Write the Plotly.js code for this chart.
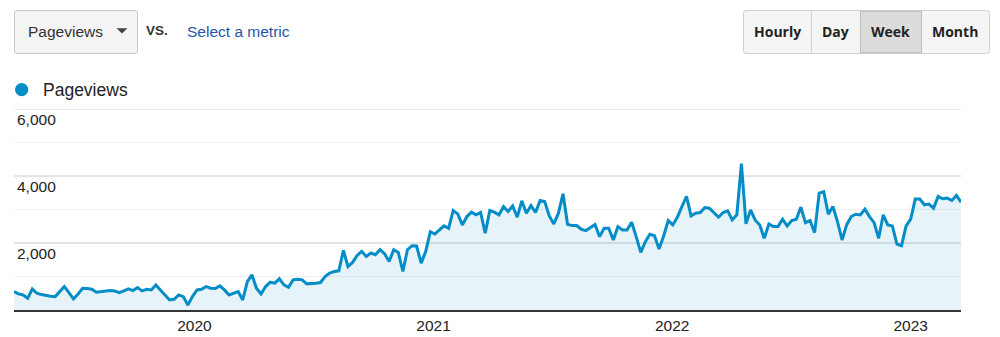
<!DOCTYPE html>
<html>
<head>
<meta charset="utf-8">
<script src="https://cdn.plot.ly/plotly-3.0.1.min.js"></script>
<style>
  html, body { margin: 0; padding: 0; background: #ffffff; }
  #chart { width: 1000px; height: 337px; }
</style>
</head>
<body>
<div id="chart"></div>
<script>
// ---------------- data ----------------
const seriesName = 'Pageviews';
const firstWeek = '2019-03-31';           // weekly buckets (Sunday start)

// Weekly pageviews, Apr 2019 – mid 2020
const pageviewsA = [550,480,450,350,630,500,460,430,410,400,
  550,700,520,330,480,650,640,620,530,550,
  580,580,570,520,570,630,580,670,570,620,
  600,750,600,450,300,320,450,400,150,400,
  600,620,700,650,640,720,600,450,500,550,
  300,850,1050,650,480,700,830,800,930,750,
  680,900,920,900,780,780,800];
// Weekly pageviews, mid 2020 – late 2021
const pageviewsB = [820,1000,1100,1150,1170,1780,1300,1420,1630,1750,
  1600,1700,1650,1800,1680,1450,1800,1720,1150,1800,
  1920,1910,1400,1750,2340,2270,2390,2510,2440,2970,
  2870,2540,2790,2920,2840,2910,2290,2970,2920,2840,
  3090,2940,3110,2770,3260,2890,3120,2910,3270,3240,
  2810,2570,2890,3470,2560,2520,2520,2410,2370,2470,
  2550,2190,2440,2440,2090,2490,2390,2390,2620,2190];
// Weekly pageviews, late 2021 – Mar 2023
const pageviewsC = [1720,2040,2260,2220,1820,2210,2670,2540,2770,3090,
  3390,2810,2890,2910,3060,3040,2890,2770,2910,2960,
  2690,2840,4370,2570,2990,2690,2540,2140,2570,2490,
  2490,2710,2510,2670,2710,3070,2610,2670,2310,3490,
  3530,2860,3090,2640,2090,2540,2790,2860,2840,3010,
  2790,2610,2140,2840,2540,2510,1970,1920,2510,2710,
  3310,3310,3140,3160,3040,3390,3320,3340,3270,3420,
  3220];

const yearTickVals = ['2020-01-01','2021-01-01','2022-01-01','2023-01-01'];
const yearTickText = ['2020','2021','2022','2023'];
const yTickVals = [2000, 4000, 6000];
const yTickText = ['2,000', '4,000', '6,000'];
const yMinorVals = [1000, 3000, 5000];
const intervalButtons = ['Hourly', 'Day', 'Week', 'Month'];
const metricLabel = 'Pageviews';
const vsLabel = 'VS.';
const selectLabel = 'Select a metric';

// ---------------- build ----------------
const values = pageviewsA.concat(pageviewsB, pageviewsC);
const t0 = Date.parse(firstWeek + 'T00:00:00Z');
const dates = values.map((v, i) => new Date(t0 + i * 7 * 864e5).toISOString().slice(0, 10));

// plot area in px
const W = 1000, H = 337;
const PL = 14, PR = 961, PT = 109, PB = 310;
const fx = x => (x - PL) / (PR - PL);
const fy = y => (PB - y) / (PB - PT);
const pt = (x, y) => fx(x) + ',' + fy(y);
function rr(x0, y0, x1, y1, r) {
  return 'M' + pt(x0 + r, y0) + ' L' + pt(x1 - r, y0) + ' Q' + pt(x1, y0) + ' ' + pt(x1, y0 + r) +
    ' L' + pt(x1, y1 - r) + ' Q' + pt(x1, y1) + ' ' + pt(x1 - r, y1) +
    ' L' + pt(x0 + r, y1) + ' Q' + pt(x0, y1) + ' ' + pt(x0, y1 - r) +
    ' L' + pt(x0, y0 + r) + ' Q' + pt(x0, y0) + ' ' + pt(x0 + r, y0) + ' Z';
}

const FONT = 'Liberation Sans, Arial, sans-serif';
const BFONT = 'Open Sans, Liberation Sans, Arial, sans-serif';

const trace = {
  type: 'scatter',
  mode: 'lines',
  x: dates,
  y: values,
  name: seriesName,
  fill: 'tozeroy',
  fillcolor: 'rgba(5,141,199,0.1)',
  line: { color: '#058dc7', width: 3 },
  hoverinfo: 'skip'
};

const shapes = [
  // top gridline (6,000) sits on the plot edge
  { type: 'line', xref: 'paper', yref: 'y', x0: 0, x1: 1, y0: yTickVals[yTickVals.length - 1], y1: yTickVals[yTickVals.length - 1],
    line: { color: '#e4e4e4', width: 1.5 }, layer: 'below' },
  { type: 'path', xref: 'paper', yref: 'paper', path: rr(14.5, 10.5, 137.5, 53.5, 3),
    fillcolor: '#f4f4f4', line: { color: '#c6c6c6', width: 1 } },
  { type: 'path', xref: 'paper', yref: 'paper', path: 'M' + pt(116.5, 28.3) + ' L' + pt(127.5, 28.3) + ' L' + pt(122, 33.5) + ' Z',
    fillcolor: '#444444', line: { width: 0 } },
  { type: 'path', xref: 'paper', yref: 'paper', path: rr(743.5, 10.5, 989.5, 53.5, 3),
    fillcolor: '#f5f5f5', line: { color: '#cfcfcf', width: 1 } },
  { type: 'rect', xref: 'paper', yref: 'paper', x0: fx(860.5), x1: fx(921.5), y0: fy(52.5), y1: fy(11.5),
    fillcolor: '#dcdcdc', line: { color: '#bdbdbd', width: 1 } },
  { type: 'line', xref: 'paper', yref: 'paper', x0: fx(811.5), x1: fx(811.5), y0: fy(52.5), y1: fy(11.5),
    line: { color: '#d2d2d2', width: 1 } },
  { type: 'circle', xref: 'paper', yref: 'paper', x0: fx(15), x1: fx(28.3), y0: fy(96.3), y1: fy(83),
    fillcolor: '#058dc7', line: { width: 0 } }
];

const btnCenters = [777, 835.5, 890.5, 955];
const annotations = [
  { text: metricLabel, x: fx(26), y: fy(31.5), xanchor: 'left', yanchor: 'middle',
    font: { family: FONT, size: 15.5, color: '#333333' } },
  { text: vsLabel, x: fx(143.5), y: fy(30.5), xanchor: 'left', yanchor: 'middle',
    font: { family: FONT, size: 13.5, color: '#333333', weight: 700 } },
  { text: selectLabel, x: fx(185), y: fy(31.5), xanchor: 'left', yanchor: 'middle',
    font: { family: FONT, size: 15.5, color: '#1f56a5' } },
  { text: seriesName, x: fx(41), y: fy(90), xanchor: 'left', yanchor: 'middle',
    font: { family: FONT, size: 17.5, color: '#222222' } }
].concat(intervalButtons.map((b, i) => ({
  text: b, x: fx(btnCenters[i]), y: fy(31.5), xanchor: 'center', yanchor: 'middle',
  font: { family: BFONT, size: 14, color: '#222222', weight: 700 }
}))).map(a => Object.assign({ xref: 'paper', yref: 'paper', showarrow: false }, a));

const layout = {
  width: W, height: H,
  margin: { l: PL, r: W - PR, t: PT, b: H - PB, pad: 0 },
  paper_bgcolor: '#ffffff',
  plot_bgcolor: '#ffffff',
  showlegend: false,
  xaxis: {
    type: 'date',
    range: [dates[0], dates[dates.length - 1]],
    tickmode: 'array',
    tickvals: yearTickVals,
    ticktext: yearTickText,
    showgrid: false,
    zeroline: false,
    showline: true,
    linecolor: '#333333',
    linewidth: 2,
    ticks: '',
    tickfont: { family: FONT, size: 15.5, color: '#222222' },
    fixedrange: true
  },
  yaxis: {
    range: [0, 6000],
    tickmode: 'array',
    tickvals: yTickVals,
    ticktext: yTickText,
    ticklabelposition: 'inside bottom',
    showgrid: true,
    gridcolor: '#e4e4e4',
    gridwidth: 1.5,
    minor: { tickmode: 'array', tickvals: yMinorVals, showgrid: true, gridcolor: '#f0f0f0', gridwidth: 1 },
    zeroline: false,
    showline: false,
    ticks: '',
    tickfont: { family: FONT, size: 15.5, color: '#222222' },
    fixedrange: true
  },
  shapes: shapes,
  annotations: annotations
};

Plotly.newPlot('chart', [trace], layout, { displayModeBar: false, staticPlot: true });
</script>
</body>
</html>
